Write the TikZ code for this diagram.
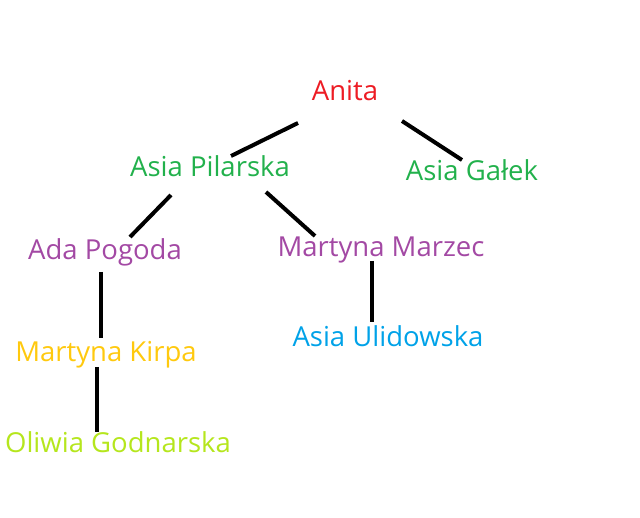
\documentclass[tikz,border=0pt]{standalone}
\usepackage{fontspec}
\setmainfont{Open Sans}
\usepackage{tikz}
\usetikzlibrary{calc}

\definecolor{pred}{HTML}{ED1C24}
\definecolor{pgreen}{HTML}{22B14C}
\definecolor{ppurple}{HTML}{A349A4}
\definecolor{pgold}{HTML}{FFC90E}
\definecolor{pblue}{HTML}{00A2E8}
\definecolor{plime}{HTML}{B5E61D}

\begin{document}
\begin{tikzpicture}[x=1pt, y=-1pt,
                    every node/.style={inner sep=0pt, anchor=base, font=\fontsize{27.5}{32}\selectfont},
                    edge/.style={line width=4pt, black}]

\useasboundingbox (0,0) rectangle (640,518);

% Names
\node[text=pred]    (anita)  at (345,101) {Anita};
\node[text=pgreen]  (pil)    at (210,177) {Asia Pilarska};
\node[text=pgreen]  (galek)  at (472,181) {Asia Gałek};
\node[text=ppurple] (pogoda) at (105,260) {Ada Pogoda};
\node[text=ppurple] (marzec) at (381,257) {Martyna Marzec};
\node[text=pgold]   (kirpa)  at (106,362) {Martyna Kirpa};
\node[text=plime]   (godn)   at (118,453) {Oliwia Godnarska};
\node[text=pblue]   (ulid)   at (388,347) {Asia Ulidowska};

% Branches
\draw[edge] ([shift={(-47,22)}]anita.base) -- ([shift={(21,-21)}]pil.base);
\draw[edge] ([shift={(57,20)}]anita.base) -- ([shift={(-10,-21)}]galek.base);
\draw[edge] ([shift={(-39,18)}]pil.base) -- ([shift={(25,-23)}]pogoda.base);
\draw[edge] ([shift={(56,15)}]pil.base) -- ([shift={(-66,-21)}]marzec.base);
\draw[edge] ([shift={(-4,12)}]pogoda.base) -- ([shift={(-5,-24)}]kirpa.base);
\draw[edge] ([shift={(-9,5)}]kirpa.base) -- ([shift={(-21,-21)}]godn.base);
\draw[edge] ([shift={(-9,4)}]marzec.base) -- ([shift={(-16,-25)}]ulid.base);

\end{tikzpicture}
\end{document}
